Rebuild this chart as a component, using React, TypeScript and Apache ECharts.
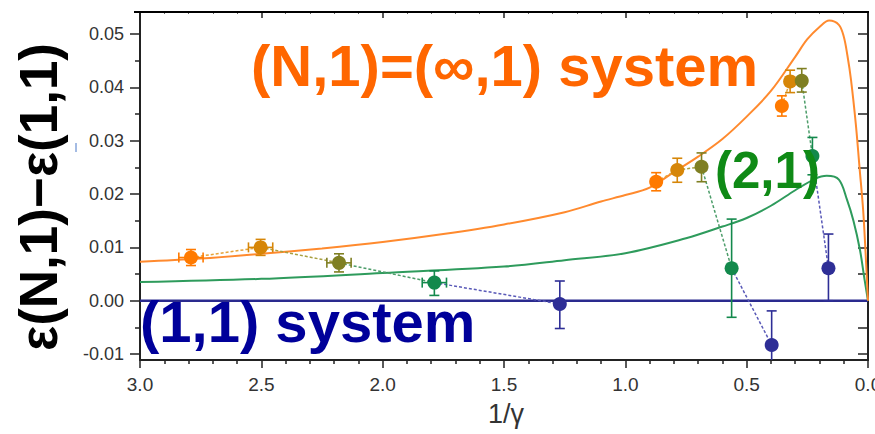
import React, { useEffect, useRef } from "react";
import * as echarts from "echarts";

// ---- data ----
const xTicks = [3.0, 2.5, 2.0, 1.5, 1.0, 0.5, 0.0];
const yTickLabels = [-0.01, 0.0, 0.01, 0.02, 0.03, 0.04, 0.05];
const yMinorTicks = [-0.005, 0.005, 0.015, 0.025, 0.035, 0.045];
const yRightTicks = [-0.01, -0.005, 0.0, 0.005, 0.01, 0.015, 0.02, 0.025, 0.03, 0.035, 0.04, 0.045, 0.05];

// theory curve (N,1)=(inf,1)
const orangeCurve: [number, number][] = [
  [3.0, 0.0073], [2.75, 0.0079], [2.5, 0.0088], [2.25, 0.0098], [2.0, 0.011],
  [1.75, 0.0125], [1.5, 0.0143], [1.25, 0.0166], [1.1, 0.0186], [1.0, 0.0198],
  [0.9, 0.0212], [0.8, 0.0241], [0.7, 0.027], [0.6, 0.0303], [0.5, 0.0345],
  [0.4, 0.0393], [0.3, 0.0457], [0.25, 0.049], [0.2, 0.0513], [0.16, 0.0525],
  [0.12, 0.0517], [0.1, 0.0495], [0.085, 0.046], [0.07, 0.0414], [0.05, 0.033],
  [0.035, 0.025], [0.02, 0.017], [0.01, 0.009], [0.0, 0.0],
];
// theory curve (2,1)
const greenCurve: [number, number][] = [
  [3.0, 0.0035], [2.5, 0.0041], [2.0, 0.0052], [1.5, 0.0064], [1.25, 0.0076],
  [1.0, 0.0089], [0.75, 0.0117], [0.6, 0.0139], [0.5, 0.0155], [0.4, 0.0178],
  [0.3, 0.0207], [0.22, 0.0228], [0.17, 0.0234], [0.12, 0.0227], [0.087, 0.019],
  [0.06, 0.015], [0.033, 0.0095], [0.015, 0.0042], [0.0, 0.0],
];
// (1,1) system
const navyLine: [number, number][] = [[3.0, 0.0], [0.0, 0.0]];

// measured points: index = colour class (orange, gold, olive, green, navy)
// [x, y, yErrUp, yErrDown, xErr]
const groupA: number[][] = [
  [2.79, 0.0081, 0.0015, 0.0015, 0.05],
  [2.503, 0.01, 0.0015, 0.0015, 0.05],
  [2.18, 0.0071, 0.0017, 0.0017, 0.05],
  [1.787, 0.0034, 0.0022, 0.0024, 0.05],
  [1.27, -0.0006, 0.0043, 0.0046, 0],
];
const groupB: number[][] = [
  [0.873, 0.0223, 0.0017, 0.0017, 0],
  [0.786, 0.0245, 0.0022, 0.0023, 0],
  [0.686, 0.0251, 0.0026, 0.0028, 0],
  [0.562, 0.0061, 0.0092, 0.0092, 0],
  [0.397, -0.0083, 0.0064, 0.0064, 0],
];
const groupC: number[][] = [
  [0.355, 0.0365, 0.0019, 0.0019, 0],
  [0.321, 0.0411, 0.0021, 0.0021, 0],
  [0.273, 0.0412, 0.0023, 0.0021, 0],
  [0.229, 0.0271, 0.0035, 0.0035, 0],
  [0.163, 0.0061, 0.0064, 0.0061, 0],
];
const pointColors = ["#ff7a00", "#d68608", "#7f7f22", "#13894c", "#2e2e96"];
const linkColors = ["#e6a43a", "#a8a040", "#4d9d6a", "#5a5ab8"];

const FONT = '"Liberation Sans", Arial, Helvetica, sans-serif';

export default function App() {
  const ref = useRef<HTMLDivElement>(null);
  useEffect(() => {
    if (!ref.current) return;
    const chart = echarts.init(ref.current, null, { renderer: "svg" });
    const groups = [groupA, groupB, groupC];

    const series: any[] = [];
    series.push({
      type: "line", data: navyLine, symbol: "none", silent: true,
      lineStyle: { color: "#2a2a8e", width: 2.5 }, z: 2,
    });
    series.push({
      type: "line", data: greenCurve, symbol: "none", smooth: 0.35, silent: true,
      lineStyle: { color: "#2e9b5c", width: 2 }, z: 2,
    });
    series.push({
      type: "line", data: orangeCurve, symbol: "none", smooth: 0.35, silent: true,
      lineStyle: { color: "#ff8a2e", width: 2 }, z: 2,
    });
    // dotted links between successive points
    groups.forEach((g) => {
      for (let i = 0; i < g.length - 1; i++) {
        series.push({
          type: "line", symbol: "none", silent: true, z: 3,
          data: [[g[i][0], g[i][1]], [g[i + 1][0], g[i + 1][1]]],
          lineStyle: { color: linkColors[i], width: 1.5, type: [3, 2] },
        });
      }
    });
    // error bars + points per colour class
    pointColors.forEach((col, i) => {
      const pts = groups.map((g) => g[i]);
      series.push({
        type: "custom", clip: true, z: 4, silent: true,
        data: pts,
        renderItem: (params: any, api: any) => {
          const x = api.value(0), y = api.value(1), up = api.value(2), dn = api.value(3), ex = api.value(4);
          const t = api.coord([x, y + up]);
          const b = api.coord([x, y - dn]);
          const c = api.coord([x, y]);
          const cap = 5;
          const st = { stroke: col, lineWidth: 1.6 };
          const ch: any[] = [
            { type: "line", shape: { x1: t[0], y1: t[1], x2: b[0], y2: b[1] }, style: st },
            { type: "line", shape: { x1: t[0] - cap, y1: t[1], x2: t[0] + cap, y2: t[1] }, style: st },
            { type: "line", shape: { x1: b[0] - cap, y1: b[1], x2: b[0] + cap, y2: b[1] }, style: st },
          ];
          if (ex > 0) {
            const l = api.coord([x + ex, y]);
            const r = api.coord([x - ex, y]);
            ch.push(
              { type: "line", shape: { x1: l[0], y1: c[1], x2: r[0], y2: c[1] }, style: st },
              { type: "line", shape: { x1: l[0], y1: c[1] - cap, x2: l[0], y2: c[1] + cap }, style: st },
              { type: "line", shape: { x1: r[0], y1: c[1] - cap, x2: r[0], y2: c[1] + cap }, style: st },
            );
          }
          return { type: "group", children: ch };
        },
      });
      series.push({
        type: "scatter", z: 5, silent: true,
        data: pts.map((p) => [p[0], p[1]]),
        symbol: "circle", symbolSize: 14,
        itemStyle: { color: col, opacity: 1 },
      });
    });

    const labelStyle = { color: "#333", fontFamily: FONT };
    const axisColor = "#222";

    const option: any = {
      animation: false,
      grid: { left: 140, right: 7, top: 12, bottom: 74, containLabel: false, outerBoundsMode: "none" },
      xAxis: [
        {
          type: "value", min: 0, max: 3, interval: 0.5, inverse: true, position: "bottom",
          axisLine: { show: true, onZero: false, lineStyle: { color: axisColor, width: 2 } },
          axisTick: { show: true, length: 8, lineStyle: { color: axisColor, width: 1.5 } },
          minorTick: { show: true, splitNumber: 5, length: 4, lineStyle: { color: axisColor, width: 1.5 } },
          axisLabel: { ...labelStyle, fontSize: 19, margin: 15, formatter: (v: number) => v.toFixed(1), showMaxLabel: true, showMinLabel: true, hideOverlap: false },
          splitLine: { show: false }, minorSplitLine: { show: false },
        },
        {
          type: "value", min: 0, max: 3, interval: 0.5, inverse: true, position: "top",
          axisLine: { show: true, onZero: false, lineStyle: { color: "#000", width: 2 } },
          axisTick: { show: true, inside: true, length: 6, lineStyle: { color: axisColor, width: 1.5 } },
          minorTick: { show: true, splitNumber: 5, length: 2, lineStyle: { color: "#666", width: 1 } },
          axisLabel: { show: false }, splitLine: { show: false },
        },
      ],
      yAxis: [
        {
          type: "value", min: -0.0111, max: 0.0541, position: "left",
          axisLine: { show: true, onZero: false, lineStyle: { color: axisColor, width: 2 } },
          axisTick: { show: true, length: 10, customValues: yTickLabels, lineStyle: { color: axisColor, width: 1.5 } },
          axisLabel: { ...labelStyle, fontSize: 18, margin: 16, customValues: yTickLabels, formatter: (v: number) => v.toFixed(2) },
          splitLine: { show: false },
        },
        {
          type: "value", min: -0.0111, max: 0.0541, position: "left",
          axisLine: { show: false, onZero: false },
          axisTick: { show: true, length: 5, customValues: yMinorTicks, lineStyle: { color: axisColor, width: 1.5 } },
          axisLabel: { show: false, customValues: yMinorTicks },
          splitLine: { show: false },
        },
        {
          type: "value", min: -0.0111, max: 0.0541, position: "right",
          axisLine: { show: true, onZero: false, lineStyle: { color: axisColor, width: 2 } },
          axisTick: { show: true, inside: true, length: 10, customValues: yRightTicks, lineStyle: { color: axisColor, width: 1.5 } },
          axisLabel: { show: false, customValues: yRightTicks },
          splitLine: { show: false },
        },
      ],
      graphic: [
        { type: "line", shape: { x1: 134, y1: 12, x2: 869, y2: 12 }, style: { stroke: "#000", lineWidth: 2 }, z: 10 },
        { type: "line", shape: { x1: 76, y1: 143, x2: 76, y2: 152 }, style: { stroke: "#4a78c8", lineWidth: 1 } },
        {
          type: "text", x: 251, y: 65, z: 20,
          style: { text: "(N,1)=(\u221e,1) system", fill: "#ff6600", font: `bold 58px ${FONT}`, textAlign: "left", textVerticalAlign: "middle", align: "left", verticalAlign: "middle" },
        },
        {
          type: "text", x: 715, y: 170, z: 20,
          style: { text: "(2,1)", fill: "#0f8a16", font: `bold 51px ${FONT}`, textAlign: "left", textVerticalAlign: "middle", align: "left", verticalAlign: "middle" },
        },
        {
          type: "text", x: 140, y: 321, z: 20,
          style: { text: "(1,1) system", fill: "#00009a", font: `bold 58px ${FONT}`, textAlign: "left", textVerticalAlign: "middle", align: "left", verticalAlign: "middle" },
        },
        {
          type: "text", x: 38, y: 197, rotation: Math.PI / 2, z: 20,
          style: { text: "\u03b5(N,1)\u2212\u03b5(1,1)", fill: "#000", font: `bold 53px ${FONT}`, textAlign: "center", textVerticalAlign: "middle", align: "center", verticalAlign: "middle" },
        },
        {
          type: "text", x: 506, y: 414, z: 20,
          style: { text: "1/\u03b3", fill: "#333", font: `27px ${FONT}`, textAlign: "center", textVerticalAlign: "middle", align: "center", verticalAlign: "middle" },
        },
      ],
      series,
    };
    chart.setOption(option);
    return () => chart.dispose();
  }, []);
  return (
    <div
      ref={ref}
      style={{ position: "fixed", left: 0, top: 0, width: 875, height: 434, background: "#fff" }}
    />
  );
}
